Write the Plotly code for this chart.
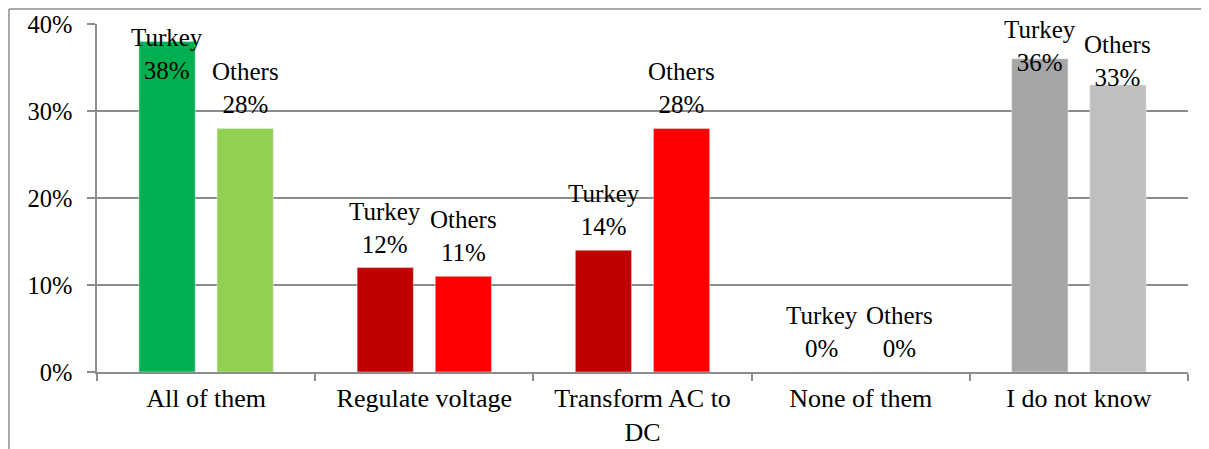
import plotly.graph_objects as go

categories = ["All of them", "Regulate voltage", "Transform AC to<br>DC", "None of them", "I do not know"]
turkey = [38, 12, 14, 0, 36]
others = [28, 11, 28, 0, 33]
turkey_colors = ["#00B050", "#C00000", "#C00000", "#C00000", "#A6A6A6"]
others_colors = ["#92D050", "#FF0000", "#FF0000", "#FF0000", "#BFBFBF"]
tick_vals = [0, 10, 20, 30, 40]
tick_text = ["0%", "10%", "20%", "30%", "40%"]

FONT = "Liberation Serif, Times New Roman, serif"
grid = "#8c8c8c"

fig = go.Figure()
fig.add_trace(go.Bar(name="Turkey", x=categories, y=turkey, marker_color=turkey_colors))
fig.add_trace(go.Bar(name="Others", x=categories, y=others, marker_color=others_colors))

# data labels; the ones near the top got nudged down into the plot (as in the original)
nudge = {("Turkey", 0): -45, ("Turkey", 4): -19, ("Others", 4): -8}
for i, cat in enumerate(categories):
    for name, vals, shift in (("Turkey", turkey, -39), ("Others", others, 39)):
        v = vals[i]
        fig.add_annotation(x=cat, y=v, xshift=shift, yanchor="bottom", yshift=nudge.get((name, i), 8),
                           showarrow=False, text=f"{name}<br>{v}%",
                           font=dict(family=FONT, size=25, color="black"), align="center")

# outer frame lines (top and left)
fig.add_shape(type="line", xref="paper", yref="paper", x0=-0.0807, x1=1.03, y0=1.043, y1=1.043,
              line=dict(color=grid, width=1.5))
fig.add_shape(type="line", xref="paper", yref="paper", x0=-0.0807, x1=-0.0807, y0=1.043, y1=-0.25,
              line=dict(color=grid, width=1.5))

# page body has an 8px margin, so the figure is shrunk by 8px on the left/top
fig.update_layout(
    width=1201, height=441,
    margin=dict(l=89, r=21, t=16, b=77),
    paper_bgcolor="white", plot_bgcolor="white",
    barmode="group", bargap=0.284, bargroupgap=0.28,
    showlegend=False,
    font=dict(family=FONT, size=24, color="black"),
    xaxis=dict(showline=True, linecolor=grid, linewidth=1.5, ticks="outside", tickson="boundaries",
               ticklen=7, tickcolor=grid, tickwidth=1.5, showgrid=False,
               tickfont=dict(size=26), ticklabelstandoff=2, automargin=False),
    yaxis=dict(range=[0, 40], tickvals=tick_vals, ticktext=tick_text, showgrid=True, gridcolor=grid,
               gridwidth=1.5, showline=True, linecolor=grid, linewidth=1.5, ticks="outside", ticklen=8,
               tickcolor=grid, tickwidth=1.5, zeroline=False, ticklabelstandoff=10,
               tickfont=dict(size=24.5), automargin=False),
)

fig.write_html("out.html")
